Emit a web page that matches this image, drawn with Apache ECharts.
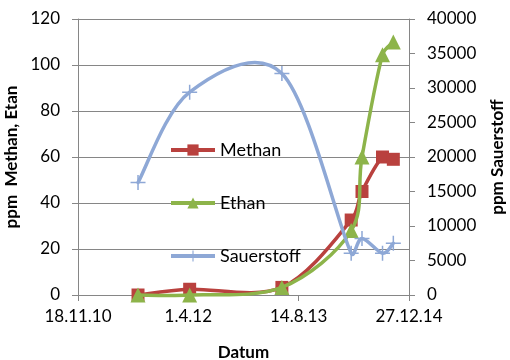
<!DOCTYPE html>
<html>
<head>
<meta charset="utf-8">
<script src="https://cdn.jsdelivr.net/npm/echarts@6/dist/echarts.min.js"></script>
<style>
  html, body { margin: 0; padding: 0; background: #fff; }
  #chart { width: 510px; height: 360px; }
</style>
</head>
<body>
<div id="chart"></div>
<script>
// Sampling dates and measured concentrations
const dates = ['2011-08-17', '2012-04-07', '2013-05-30', '2014-04-09', '2014-05-28', '2014-08-29', '2014-10-17'];
const methan = [0, 2.5, 3.3, 32.6, 45, 60, 59];
const ethan = [0, 0, 3.3, 28, 60, 104.5, 110];
const sauerstoff = [16300, 29400, 32100, 6050, 8200, 6050, 7500];

// Date axis: start date and tick step in days
const axisStart = '2010-11-18';
const axisSpanDays = 1500;
const axisStepDays = 500;
const leftTicks = { min: 0, max: 120, interval: 20 };
const rightTicks = { min: 0, max: 40000, interval: 5000 };

const DAY = 86400000;
const t0 = Date.parse(axisStart + 'T00:00:00Z');
const toDay = s => (Date.parse(s + 'T00:00:00Z') - t0) / DAY;
const fmtDay = d => {
  const dt = new Date(t0 + d * DAY);
  return dt.getUTCDate() + '.' + (dt.getUTCMonth() + 1) + '.' + String(dt.getUTCFullYear()).slice(2);
};
const pairs = vals => dates.map((s, i) => [toDay(s), vals[i]]);

const gray = '#868686';
const font = 'Lato';
const plus = 'path://M9,0h2v9h9v2h-9v9h-2v-9h-9v-2h9z';
const colors = { Methan: '#B9413E', Ethan: '#8DB44A', Sauerstoff: '#8EA8D6' };

// Smoothed line: cubic Bezier segments through the data points (pixel
// positions come from the axes via api.coord). Tangents follow the
// neighbouring points (Catmull-Rom, 1/6 of the chord); each control arm is
// capped relative to its own segment so short segments do not loop.
const ARM = 1 / 6;
const ARM_CAP = 0.4;
function curveSeries(name, vals, yAxisIndex, z) {
  return {
    type: 'custom',
    name: name + ' Kurve',
    yAxisIndex: yAxisIndex,
    data: [[0, 0]],
    z: z,
    silent: true,
    renderItem: function (params, api) {
      const p = pairs(vals).map(v => api.coord(v));
      const n = p.length;
      const dist = (u, w) => Math.hypot(w[0] - u[0], w[1] - u[1]);
      const arm = (b, vx, vy, seg, sign) => {
        const len = Math.hypot(vx, vy) || 1;
        const k = Math.min(1, ARM_CAP * seg / len);
        return [b[0] + sign * vx * k, b[1] + sign * vy * k];
      };
      const outCp = [], inCp = [];
      for (let i = 0; i < n; i++) {
        const a = p[Math.max(i - 1, 0)], b = p[i], c = p[Math.min(i + 1, n - 1)];
        const vx = (c[0] - a[0]) * ARM, vy = (c[1] - a[1]) * ARM;
        outCp[i] = arm(b, vx, vy, dist(b, c), 1);
        inCp[i] = arm(b, vx, vy, dist(a, b), -1);
      }
      let d = 'M' + p[0][0] + ',' + p[0][1];
      for (let i = 0; i < n - 1; i++) {
        d += 'C' + outCp[i][0] + ',' + outCp[i][1] + ' ' + inCp[i + 1][0] + ',' + inCp[i + 1][1] +
             ' ' + p[i + 1][0] + ',' + p[i + 1][1];
      }
      return {
        type: 'path',
        shape: { pathData: d },
        style: { fill: null, stroke: colors[name], lineWidth: 3.5, lineJoin: 'round', lineCap: 'round' }
      };
    }
  };
}

function markerSeries(name, vals, yAxisIndex, symbol, size, z) {
  return {
    name: name,
    type: 'line',
    yAxisIndex: yAxisIndex,
    data: pairs(vals),
    symbol: symbol,
    symbolSize: size,
    color: colors[name],
    lineStyle: { width: 3.5, color: colors[name], opacity: 0 },
    itemStyle: { color: colors[name] },
    z: z
  };
}

const chart = echarts.init(document.getElementById('chart'), null, { renderer: 'canvas' });
chart.setOption({
  animation: false,
  textStyle: { fontFamily: font, color: '#000' },
  grid: { left: 78, right: 101, top: 19, bottom: 65, outerBoundsMode: 'none', containLabel: false },
  legend: {
    orient: 'vertical',
    left: 169,
    top: 141,
    padding: 0,
    itemWidth: 44,
    itemHeight: 14,
    itemGap: 35,
    lineStyle: { opacity: 1, width: 4 },
    textStyle: { fontFamily: font, fontSize: 18, color: '#000' },
    data: ['Methan', 'Ethan', 'Sauerstoff']
  },
  xAxis: {
    type: 'value',
    min: 0,
    max: axisSpanDays,
    interval: axisStepDays,
    name: 'Datum',
    nameLocation: 'middle',
    nameGap: 49,
    nameTextStyle: { fontFamily: font, fontSize: 17, fontWeight: 'bold', color: '#000' },
    axisLine: { lineStyle: { color: gray, width: 1 } },
    axisTick: { show: true, length: 6, lineStyle: { color: gray } },
    axisLabel: { formatter: fmtDay, fontSize: 17, color: '#000', margin: 13 },
    splitLine: { show: false }
  },
  yAxis: [
    {
      type: 'value',
      position: 'left',
      min: leftTicks.min,
      max: leftTicks.max,
      interval: leftTicks.interval,
      name: 'ppm  Methan, Etan',
      nameLocation: 'middle',
      nameGap: 46,
      nameTextStyle: { fontFamily: font, fontSize: 17, fontWeight: 'bold', color: '#000' },
      axisLine: { show: true, lineStyle: { color: gray, width: 1 } },
      axisTick: { show: true, length: 6, lineStyle: { color: gray } },
      axisLabel: { fontSize: 17, color: '#000', margin: 18 },
      splitLine: { show: true, lineStyle: { color: gray, width: 1 } }
    },
    {
      type: 'value',
      position: 'right',
      min: rightTicks.min,
      max: rightTicks.max,
      interval: rightTicks.interval,
      name: 'ppm Sauerstoff',
      nameLocation: 'middle',
      nameGap: 80,
      nameRotate: 90,
      nameTextStyle: { fontFamily: font, fontSize: 17, fontWeight: 'bold', color: '#000' },
      axisLine: { show: true, lineStyle: { color: gray, width: 1 } },
      axisTick: { show: true, length: 6, lineStyle: { color: gray } },
      axisLabel: { fontSize: 17, color: '#000', margin: 18, formatter: v => String(v) },
      splitLine: { show: false }
    }
  ],
  series: [
    curveSeries('Methan', methan, 0, 1),
    markerSeries('Methan', methan, 0, 'rect', 13, 2),
    curveSeries('Ethan', ethan, 0, 3),
    markerSeries('Ethan', ethan, 0, 'triangle', 15, 4),
    curveSeries('Sauerstoff', sauerstoff, 1, 5),
    markerSeries('Sauerstoff', sauerstoff, 1, plus, 15, 6)
  ]
});
</script>
</body>
</html>
